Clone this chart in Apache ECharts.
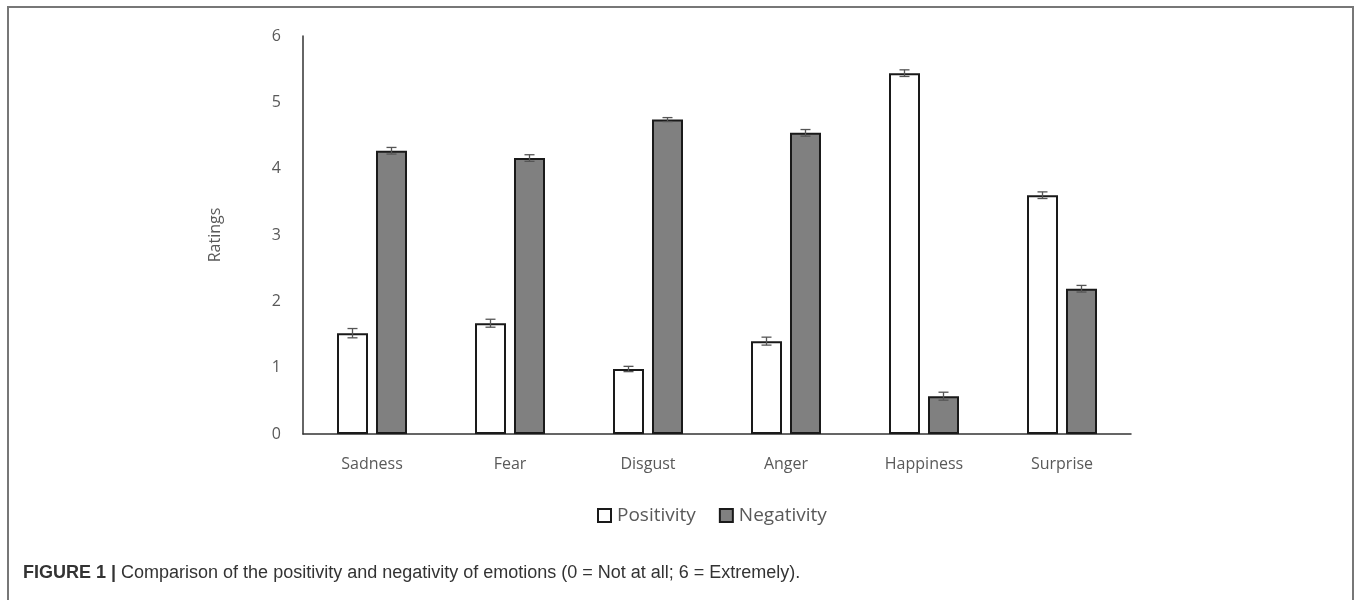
<!DOCTYPE html>
<html>
<head>
<meta charset="utf-8">
<script src="https://cdn.jsdelivr.net/npm/echarts@6/dist/echarts.min.js"></script>
<style>
  html, body { margin: 0; padding: 0; background: #fff; }
  #chart { width: 1359px; height: 600px; }
</style>
</head>
<body>
<div id="chart"></div>
<script>
const categories = ['Sadness', 'Fear', 'Disgust', 'Anger', 'Happiness', 'Surprise'];
const positivity = [1.52, 1.67, 0.98, 1.40, 5.44, 3.60];
const negativity = [4.27, 4.16, 4.74, 4.54, 0.57, 2.19];
const positivityErr = [0.07, 0.06, 0.04, 0.06, 0.05, 0.05];
const negativityErr = [0.05, 0.05, 0.03, 0.05, 0.06, 0.05];

const BAR_W = 31;
const BAR_GAP = 8;
const labelFont = 'Open Sans';

const chart = echarts.init(document.getElementById('chart'));

// error bars drawn at the bar's horizontal offset
function errorBars(values, errs, side) {
  return {
    type: 'custom',
    silent: true,
    z: 5,
    data: values.map((v, i) => [i, v - errs[i], v + errs[i]]),
    renderItem: (params, api) => {
      const lo = api.coord([api.value(0), api.value(1)]);
      const hi = api.coord([api.value(0), api.value(2)]);
      const x = lo[0] + side * (BAR_W + BAR_GAP) / 2;
      const cap = 5;
      const style = { stroke: '#555', lineWidth: 1.3 };
      return {
        type: 'group',
        children: [
          { type: 'line', shape: { x1: x, y1: lo[1], x2: x, y2: hi[1] }, style },
          { type: 'line', shape: { x1: x - cap, y1: lo[1], x2: x + cap, y2: lo[1] }, style },
          { type: 'line', shape: { x1: x - cap, y1: hi[1], x2: x + cap, y2: hi[1] }, style }
        ]
      };
    }
  };
}

const option = {
  animation: false,
  backgroundColor: '#fff',
  title: {
    left: 18,
    top: 559,
    text: '{b|FIGURE 1 |} Comparison of the positivity and negativity of emotions (0 = Not at all; 6 = Extremely).',
    textStyle: {
      fontFamily: 'Liberation Sans',
      fontSize: 18,
      fontWeight: 'normal',
      color: '#333',
      rich: {
        b: { fontFamily: 'Liberation Sans', fontSize: 18, fontWeight: 'bold', color: '#333' }
      }
    }
  },
  graphic: [
    {
      type: 'polyline',
      shape: { points: [[8, 600], [8, 7], [1353, 7], [1353, 600]] },
      style: { stroke: '#777', lineWidth: 2, fill: null },
      silent: true
    }
  ],
  legend: {
    left: 592,
    top: 501,
    itemWidth: 13,
    itemHeight: 13,
    itemGap: 23,
    icon: 'rect',
    textStyle: { fontFamily: labelFont, fontSize: 19, color: '#595959', padding: [0, 0, 0, 1] },
    data: ['Positivity', 'Negativity']
  },
  grid: { left: 303, right: 228, top: 36, bottom: 166 },
  xAxis: {
    type: 'category',
    data: categories,
    axisLine: { lineStyle: { color: '#333', width: 1.5 } },
    axisTick: { show: false },
    axisLabel: { fontFamily: labelFont, fontSize: 16, color: '#595959', margin: 22 }
  },
  yAxis: {
    type: 'value',
    min: 0,
    max: 6,
    interval: 1,
    name: 'Ratings',
    nameLocation: 'middle',
    nameGap: 80,
    nameTextStyle: { fontFamily: labelFont, fontSize: 16, color: '#595959' },
    axisLine: { show: true, lineStyle: { color: '#333', width: 1.5 } },
    axisTick: { show: false },
    splitLine: { show: false },
    axisLabel: { fontFamily: labelFont, fontSize: 16, color: '#595959', margin: 22 }
  },
  series: [
    {
      name: 'Positivity',
      type: 'bar',
      barWidth: BAR_W,
      barGap: (BAR_GAP / BAR_W * 100).toFixed(1) + '%',
      data: positivity,
      itemStyle: { color: '#fff', borderColor: '#1a1a1a', borderWidth: 2 }
    },
    {
      name: 'Negativity',
      type: 'bar',
      barWidth: BAR_W,
      data: negativity,
      itemStyle: { color: '#808080', borderColor: '#1a1a1a', borderWidth: 2 }
    },
    errorBars(positivity, positivityErr, -1),
    errorBars(negativity, negativityErr, 1)
  ]
};

chart.setOption(option);
window.addEventListener('resize', () => chart.resize());
</script>
</body>
</html>
